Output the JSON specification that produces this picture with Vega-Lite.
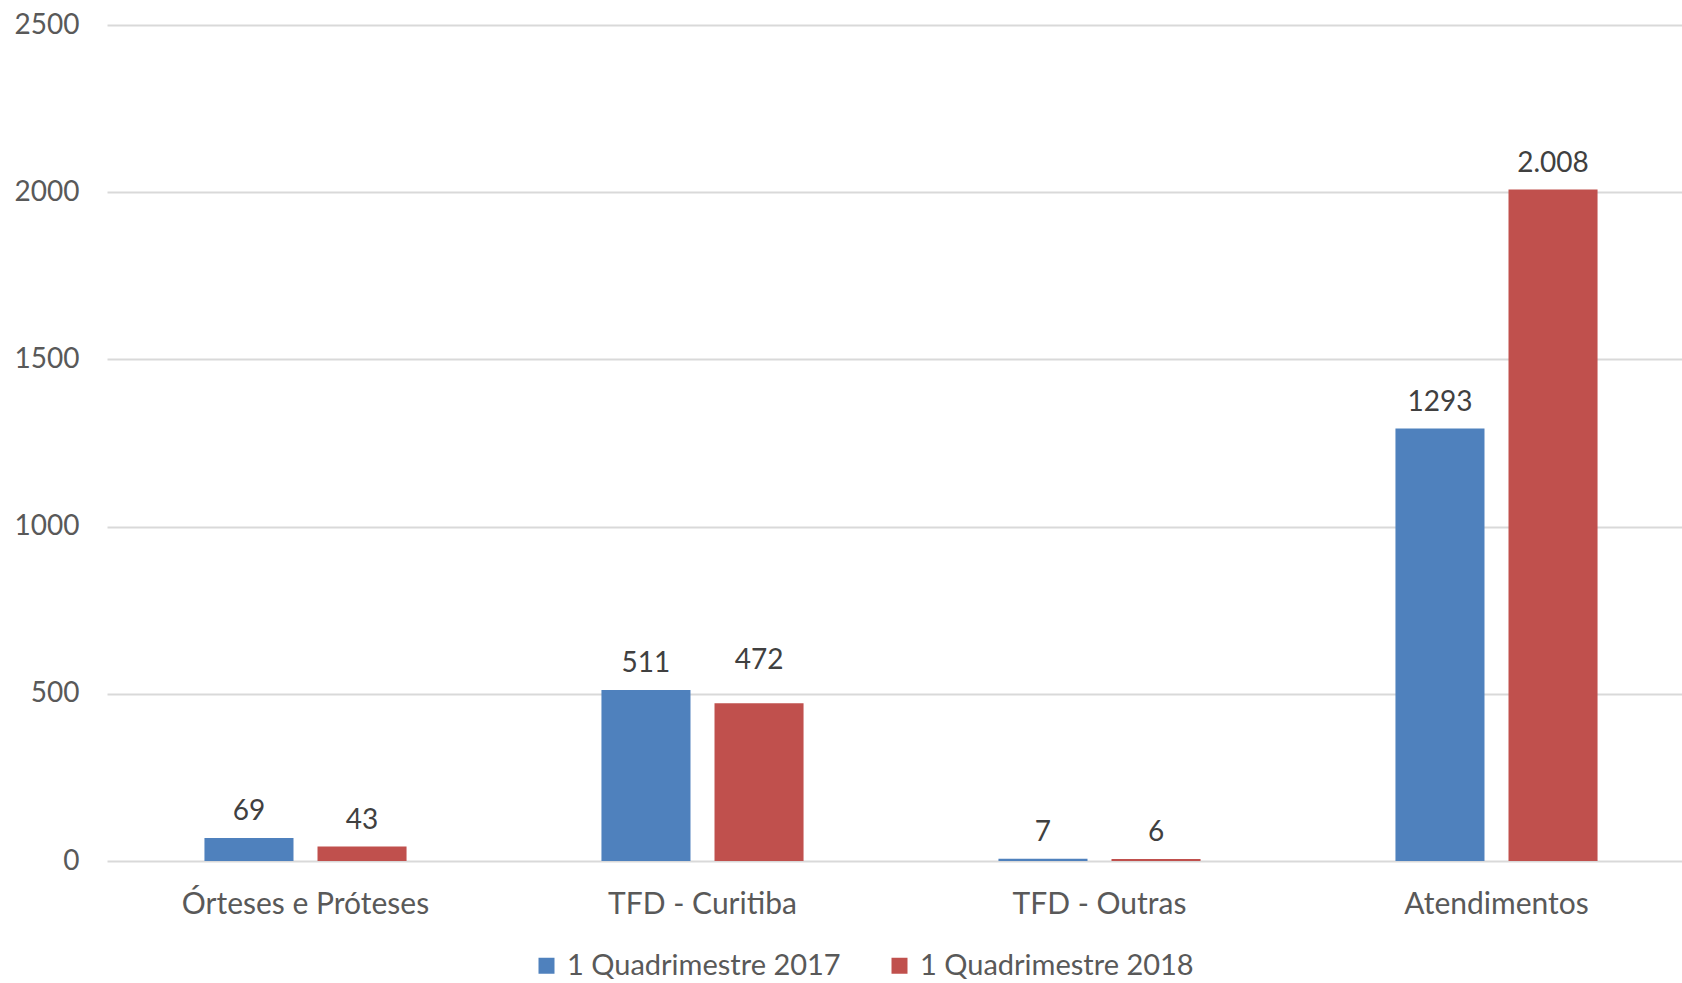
{
  "$schema": "https://vega.github.io/schema/vega-lite/v6.json",
  "width": 1588,
  "height": 836,
  "autosize": {"type": "none"},
  "padding": {"left": 107, "top": 25, "right": -13, "bottom": 122},
  "background": "white",
  "config": {
    "view": {"stroke": null},
    "font": "Lato"
  },
  "data": {
    "values": [
      {"cat": "Órteses e Próteses", "serie": "1 Quadrimestre 2017", "value": 69, "label": "69"},
      {"cat": "Órteses e Próteses", "serie": "1 Quadrimestre 2018", "value": 43, "label": "43"},
      {"cat": "TFD - Curitiba", "serie": "1 Quadrimestre 2017", "value": 511, "label": "511"},
      {"cat": "TFD - Curitiba", "serie": "1 Quadrimestre 2018", "value": 472, "label": "472"},
      {"cat": "TFD - Outras", "serie": "1 Quadrimestre 2017", "value": 7, "label": "7"},
      {"cat": "TFD - Outras", "serie": "1 Quadrimestre 2018", "value": 6, "label": "6"},
      {"cat": "Atendimentos", "serie": "1 Quadrimestre 2017", "value": 1293, "label": "1293"},
      {"cat": "Atendimentos", "serie": "1 Quadrimestre 2018", "value": 2008, "label": "2.008"}
    ]
  },
  "encoding": {
    "x": {
      "field": "cat", "type": "nominal",
      "sort": ["Órteses e Próteses", "TFD - Curitiba", "TFD - Outras", "Atendimentos"],
      "scale": {"paddingInner": 0, "paddingOuter": 0},
      "axis": {
        "title": null, "labelAngle": 0, "domain": false, "ticks": false, "labelLimit": 400,
        "labelFontSize": 30, "labelColor": "#595959", "labelPadding": 28, "labelFont": "Lato"
      }
    },
    "xOffset": {
      "field": "serie", "type": "nominal",
      "scale": {"paddingInner": 0.2124, "paddingOuter": 0.862}
    },
    "y": {
      "field": "value", "type": "quantitative",
      "scale": {"domain": [0, 2500], "nice": false},
      "axis": {
        "title": null, "values": [0, 500, 1000, 1500, 2000, 2500], "format": "d",
        "domain": false, "ticks": false, "grid": true, "gridColor": "#D9D9D9", "gridWidth": 2,
        "labelFontSize": 28, "labelColor": "#595959", "labelPadding": 28, "labelFont": "Lato"
      }
    }
  },
  "layer": [
    {
      "mark": {"type": "bar"},
      "encoding": {
        "color": {
          "field": "serie", "type": "nominal",
          "scale": {"domain": ["1 Quadrimestre 2017", "1 Quadrimestre 2018"], "range": ["#4F81BD", "#C0504D"]},
          "legend": {
            "title": null, "orient": "none", "direction": "horizontal",
            "legendX": 425, "legendY": 926, "padding": 0,
            "symbolType": "square", "symbolSize": 256, "symbolStrokeWidth": 0,
            "labelFontSize": 29, "labelColor": "#595959", "labelOffset": 6,
            "columnPadding": 44, "labelFont": "Lato", "labelLimit": 400
          }
        }
      }
    },
    {
      "transform": [{"filter": "datum.label != '472'"}],
      "mark": {"type": "text", "baseline": "alphabetic", "dy": -18, "fontSize": 28, "color": "#404040", "font": "Lato"},
      "encoding": {"text": {"field": "label"}}
    },
    {
      "transform": [{"filter": "datum.label == '472'"}],
      "mark": {"type": "text", "baseline": "alphabetic", "dy": -34, "fontSize": 28, "color": "#404040", "font": "Lato"},
      "encoding": {"text": {"field": "label"}}
    }
  ]
}
